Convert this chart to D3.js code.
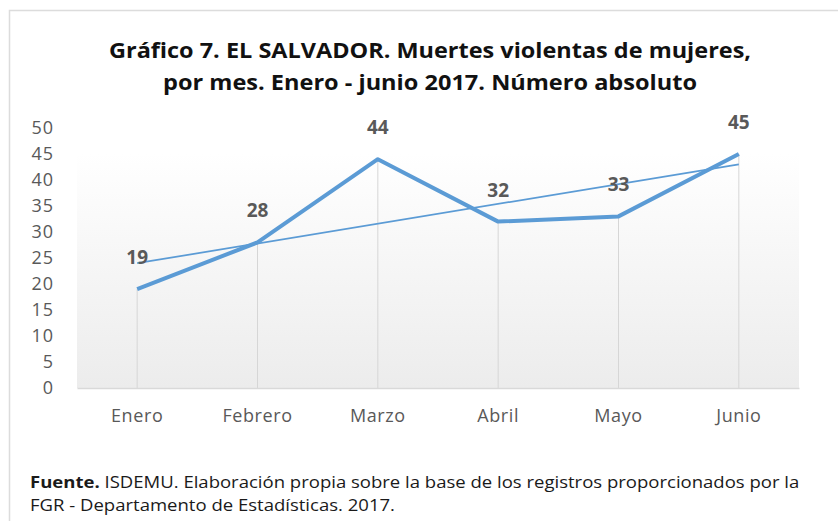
<!DOCTYPE html>
<html>
<head>
<meta charset="utf-8">
<script src="https://cdn.jsdelivr.net/npm/d3@7"></script>
<style>
  body { margin: 0; background: #fff; }
  text { font-family: "Open Sans", sans-serif; }
</style>
</head>
<body>
<div id="chart"></div>
<script>
// data
var months = ["Enero", "Febrero", "Marzo", "Abril", "Mayo", "Junio"];
var deaths = [19, 28, 44, 32, 33, 45];
var yTicks = [0, 5, 10, 15, 20, 25, 30, 35, 40, 45, 50];
var titleLines = [
  "Gráfico 7. EL SALVADOR. Muertes violentas de mujeres,",
  "por mes. Enero - junio 2017. Número absoluto"
];
var sourceBold = "Fuente.";
var sourceLines = [
  " ISDEMU. Elaboración propia sobre la base de los registros proporcionados por la",
  "FGR - Departamento de Estadísticas. 2017."
];

var width = 838, height = 521;
var margin = {top: 128, right: 39, bottom: 133, left: 77};

var svg = d3.select("#chart")
  .append("svg")
    .attr("width", width)
    .attr("height", height);

// outer frame of the chart box
svg.append("rect")
  .attr("x", 9.5).attr("y", 10.5)
  .attr("width", 900).attr("height", 600)
  .attr("fill", "none")
  .attr("stroke", "#dcdcdc")
  .attr("stroke-width", 1.5);

// title
svg.append("text")
  .attr("text-anchor", "middle")
  .attr("font-weight", "bold")
  .attr("font-size", 21)
  .attr("fill", "#111")
  .selectAll("tspan")
  .data(titleLines)
  .join("tspan")
    .attr("x", 430)
    .attr("y", function(d, i) { return 58 + i * 32; })
    .attr("textLength", function(d, i) { return i == 0 ? 642 : 534; })
    .attr("lengthAdjust", "spacingAndGlyphs")
    .text(function(d) { return d; });

var x = d3.scaleBand()
  .domain(months)
  .range([margin.left, width - margin.right]);

var y = d3.scaleLinear()
  .domain([0, 50])
  .range([height - margin.bottom, margin.top]);

// plot area background: soft grey gradient
var grad = svg.append("defs")
  .append("linearGradient")
    .attr("id", "bg")
    .attr("x1", 0).attr("y1", 0).attr("x2", 0).attr("y2", 1);
grad.append("stop").attr("offset", "0%").attr("stop-color", "#ffffff");
grad.append("stop").attr("offset", "15%").attr("stop-color", "#ffffff");
grad.append("stop").attr("offset", "100%").attr("stop-color", "#ececec");

svg.append("rect")
  .attr("x", x.range()[0])
  .attr("y", y(50) - 16)
  .attr("width", x.range()[1] - x.range()[0])
  .attr("height", y(0) - y(50) + 16)
  .attr("fill", "url(#bg)");

// drop lines from each point to the axis
svg.append("g")
  .selectAll("line")
  .data(deaths)
  .join("line")
    .attr("x1", function(d, i) { return x(months[i]) + x.bandwidth() / 2; })
    .attr("x2", function(d, i) { return x(months[i]) + x.bandwidth() / 2; })
    .attr("y1", function(d) { return y(d); })
    .attr("y2", y(0))
    .attr("stroke", "#d6d6d6")
    .attr("stroke-width", 1);

// X axis
var xAxis = svg.append("g")
  .attr("transform", "translate(0," + y(0) + ")")
  .call(d3.axisBottom(x).tickSize(0).tickPadding(21));
xAxis.select(".domain").attr("stroke", "#d9d9d9").attr("stroke-width", 1.5);
xAxis.selectAll("text")
  .attr("font-family", "Open Sans")
  .attr("font-size", 18)
  .attr("letter-spacing", 0.6)
  .attr("fill", "#595959");

// Y axis
var yAxis = svg.append("g")
  .attr("transform", "translate(" + margin.left + ",0)")
  .call(d3.axisLeft(y).tickValues(yTicks).tickSize(0).tickPadding(23));
yAxis.select(".domain").remove();
yAxis.selectAll("text")
  .attr("font-family", "Open Sans")
  .attr("font-size", 18)
  .attr("letter-spacing", 1)
  .attr("fill", "#595959");

// linear trend line (least squares on the monthly values)
var idx = deaths.map(function(d, i) { return i + 1; });
var mx = d3.mean(idx), my = d3.mean(deaths);
var slope = d3.sum(idx, function(v, i) { return (v - mx) * (deaths[i] - my); }) /
            d3.sum(idx, function(v) { return (v - mx) * (v - mx); });
var icpt = my - slope * mx;
var trend = idx.map(function(v) { return icpt + slope * v; });

var line = d3.line()
  .x(function(d, i) { return x(months[i]) + x.bandwidth() / 2; })
  .y(function(d) { return y(d); });

svg.append("path")
  .datum([trend[0], trend[trend.length - 1]])
  .attr("fill", "none")
  .attr("stroke", "#5b9bd5")
  .attr("stroke-width", 1.75)
  .attr("d", d3.line()
    .x(function(d, i) { return x(months[i * (months.length - 1)]) + x.bandwidth() / 2; })
    .y(function(d) { return y(d); }));

// main series
svg.append("path")
  .datum(deaths)
  .attr("fill", "none")
  .attr("stroke", "#5b9bd5")
  .attr("stroke-width", 4)
  .attr("stroke-linejoin", "round")
  .attr("d", line);

// value labels
svg.append("g")
  .selectAll("text")
  .data(deaths)
  .join("text")
    .attr("x", function(d, i) { return x(months[i]) + x.bandwidth() / 2; })
    .attr("y", function(d) { return y(d) - 25; })
    .attr("text-anchor", "middle")
    .attr("font-weight", "bold")
    .attr("font-size", 19)
    .attr("fill", "#595959")
    .text(function(d) { return d; });

// source note
var src = svg.append("text")
  .attr("font-size", 16.5)
  .attr("fill", "#1a1a1a");
var l1 = src.append("tspan")
  .attr("x", 30).attr("y", 488);
l1.append("tspan").attr("font-weight", "bold").text(sourceBold);
l1.append("tspan").text(sourceLines[0]);
src.append("tspan")
  .attr("x", 30).attr("y", 511)
  .text(sourceLines[1]);

// squeeze the note lines to the width seen in the original
var n1 = src.node().getSubStringLength(0, sourceBold.length + sourceLines[0].length);
var sx = 770 / n1;
src.attr("transform", "translate(30,0) scale(" + sx + ",1) translate(-30,0)");
</script>
</body>
</html>
